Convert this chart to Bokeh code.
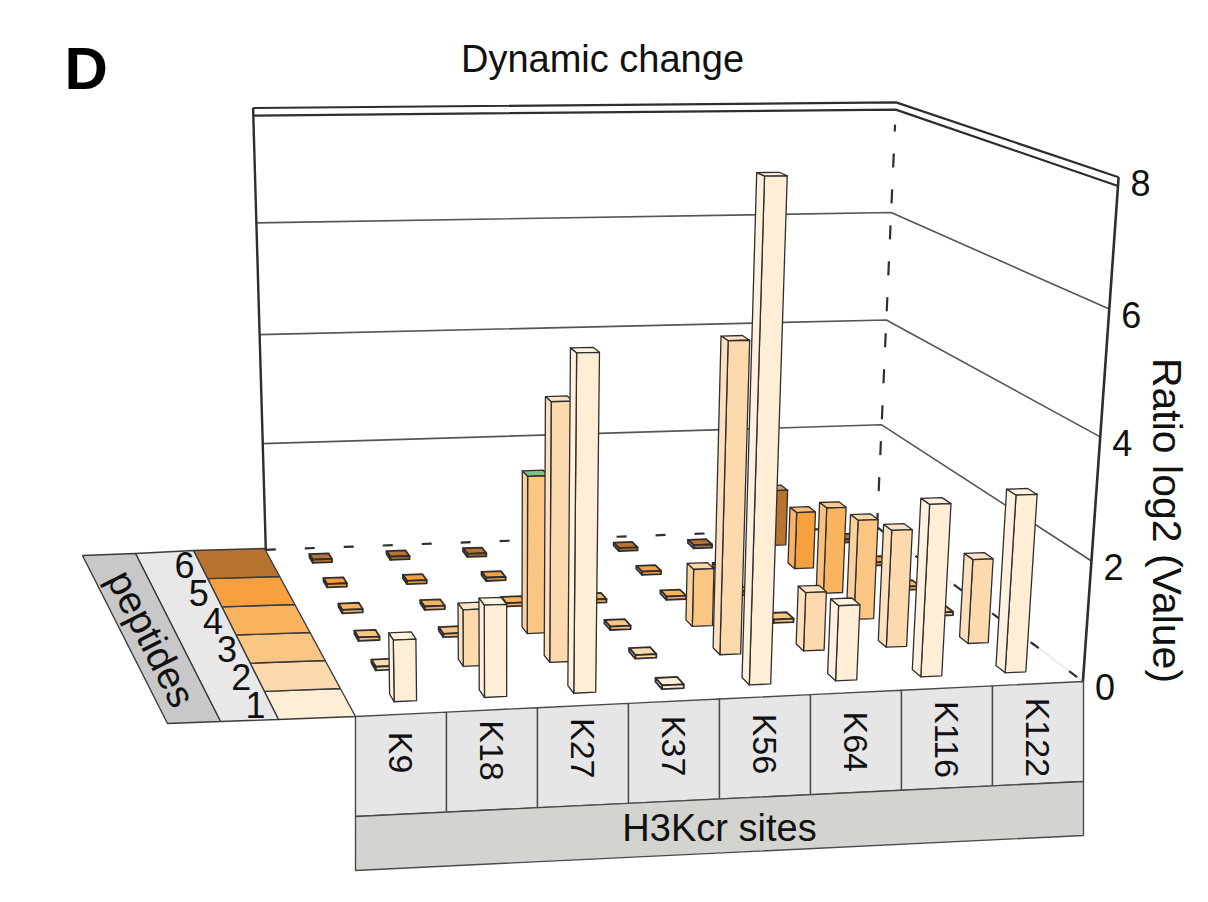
import numpy as np

from bokeh.core.properties import value
from bokeh.embed import file_html
from bokeh.models import ColumnDataSource, Range1d
from bokeh.plotting import figure
from bokeh.resources import INLINE

SITES = ['K9', 'K18', 'K27', 'K37', 'K56', 'K64', 'K116', 'K122']
PEPTIDES = ['1', '2', '3', '4', '5', '6']

# log2 ratio per peptide, one value per site (0 = flat tile)
PEP1 = [1.0, 1.5, 5.4, 0.0, 8.0, 1.25, 2.85, 2.95]
PEP2 = [0.0, 0.95, 4.3, 0.0, 5.2, 1.0, 2.0, 1.45]
PEP3 = [0.0, 0.0, 2.7, 0.0, 1.0, 0.0, 1.75, 0.0]
PEP4 = [0.0, 0.0, 0.0, 0.0, 0.0, 0.0, 1.55, 0.0]
PEP5 = [0.0, 0.0, 0.0, 0.0, 0.0, 0.0, 1.05, 0.0]
PEP6 = [0.0, 0.0, 0.0, 0.0, 0.0, 0.0, 1.05, 0.0]
VALUES = [PEP1, PEP2, PEP3, PEP4, PEP5, PEP6]

Z_TICKS = [0, 2, 4, 6, 8]
Z_MAX = 8

PEP_COLORS = ['#ffeed6', '#fdd9ae', '#fbc583', '#fab35e', '#f7a040', '#b8742f']
TOP_ACCENT = {('K27', '3'): '#7cc47c'}

W, H = 1190, 884
FONT = value('Liberation Sans')
EDGE = '#2e2e2e'
BAR_HALF = 0.12
BAR_SPREAD = 0.97
MIN_H = 0.06

# where the corners of the 3d box land on the page (layout)
ANCHORS = [
    ((0, 0, 0), (355, 716)),
    ((8, 0, 0), (1083, 681)),
    ((0, 6, 0), (264, 548)),
    ((8, 6, 0), (878, 522)),
    ((0, 6, 8), (255, 106)),
    ((8, 6, 8), (895, 98)),
    ((8, 0, 8), (1117, 176)),
    ((8, 0, 4), (1100, 437)),
    ((8, 6, 4), (885, 328)),
    ((0, 6, 4), (258, 337)),
]


def fit_camera(pairs):
  w = np.array([a for a, _ in pairs], float)
  s = np.array([b for _, b in pairs], float)
  sm = s.mean(0)
  ss = np.sqrt(2) / np.mean(np.linalg.norm(s - sm, axis=1))
  T = np.array([[ss, 0, -ss * sm[0]], [0, ss, -ss * sm[1]], [0, 0, 1]])
  wm = w.mean(0)
  ws = np.sqrt(3) / np.mean(np.linalg.norm(w - wm, axis=1))
  U = np.diag([ws, ws, ws, 1.0])
  U[:3, 3] = -ws * wm
  sn = (T @ np.c_[s, np.ones(len(s))].T).T
  wn = (U @ np.c_[w, np.ones(len(w))].T).T
  rows = []
  for (X, Y, Z, V), (u, v, _) in zip(wn, sn):
    rows.append([X, Y, Z, V, 0, 0, 0, 0, -u * X, -u * Y, -u * Z, -u * V])
    rows.append([0, 0, 0, 0, X, Y, Z, V, -v * X, -v * Y, -v * Z, -v * V])
  _, _, vt = np.linalg.svd(np.array(rows))
  P = np.linalg.inv(T) @ vt[-1].reshape(3, 4) @ U
  if (P @ np.array([4, 3, 4, 1.0]))[2] < 0:
    P = -P
  return P


P = fit_camera(ANCHORS)
_, _, vt = np.linalg.svd(P)
CAM = vt[-1][:3] / vt[-1][3]


def proj(pts):
  pts = np.asarray(pts, float)
  h = np.c_[pts, np.ones(len(pts))] @ P.T
  return list(h[:, 0] / h[:, 2]), list(h[:, 1] / h[:, 2])


def shade(color, k):
  c = np.array([int(color[i:i + 2], 16) for i in (1, 3, 5)], float)
  c = c * k if k < 1 else c + (255 - c) * (k - 1)
  return '#%02x%02x%02x' % tuple(int(round(min(255, max(0, v)))) for v in c)


def box_faces(xc, yc, h, color, top_color):
  x0, x1, y0, y1 = xc - BAR_HALF, xc + BAR_HALF, yc - BAR_HALF, yc + BAR_HALF
  side = shade(color, 1.2)
  faces = [
      ([(x0, y0, h), (x1, y0, h), (x1, y1, h), (x0, y1, h)], (0, 0, 1), (xc, yc, h), top_color),
      ([(x0, y0, 0), (x1, y0, 0), (x1, y0, h), (x0, y0, h)], (0, -1, 0), (xc, y0, h / 2), color),
      ([(x0, y1, 0), (x1, y1, 0), (x1, y1, h), (x0, y1, h)], (0, 1, 0), (xc, y1, h / 2), color),
      ([(x0, y0, 0), (x0, y1, 0), (x0, y1, h), (x0, y0, h)], (-1, 0, 0), (x0, yc, h / 2), side),
      ([(x1, y0, 0), (x1, y1, 0), (x1, y1, h), (x1, y0, h)], (1, 0, 0), (x1, yc, h / 2), side),
  ]
  out = []
  for pts, n, c, col in faces:
    if np.dot(CAM - np.array(c), n) > 0:
      out.append((pts, col))
  return out


p = figure(width=W, height=H, x_range=Range1d(0, W), y_range=Range1d(H, 0),
           output_backend='svg', toolbar_location=None, min_border=0)
p.axis.visible = False
p.grid.visible = False
p.outline_line_color = None
p.background_fill_color = 'white'

# walls: grid lines, top rim and edges
for z in Z_TICKS[1:-1]:
  xs, ys = proj([(0, 6, z), (8, 6, z), (8, 0, z)])
  p.line(xs, ys, line_color='#555555', line_width=1.6)
for z in (Z_MAX, Z_MAX - 0.13):
  xs, ys = proj([(0, 6, z), (8, 6, z), (8, 0, z)])
  p.line(xs, ys, line_color=EDGE, line_width=2.2)
xs, ys = proj([(0, 6, 0), (0, 6, Z_MAX)])
p.line(xs, ys, line_color=EDGE, line_width=2.4)
xs, ys = proj([(8, 6, 0), (8, 6, Z_MAX - 0.4)])
p.line(xs, ys, line_color=EDGE, line_width=2.2, line_dash='14 22')
xs, ys = proj([(0, 6, 0), (8, 6, 0)])
p.line(xs, ys, line_color=EDGE, line_width=2.2, line_dash='10 29')
xs, ys = proj([(8, 6, 0), (8, 0, 0)])
p.line(xs, ys, line_color='#c9d8ec', line_width=1)
p.line(xs, ys, line_color=EDGE, line_width=2.2, line_dash='10 38')

# bars, far to near
bars = []
for j, row in enumerate(VALUES):
  for i, v in enumerate(row):
    xc = 4 + (i + 0.5 - 4) * BAR_SPREAD
    yc = j + 0.5
    dist = np.hypot(CAM[0] - xc, CAM[1] - yc)
    top = TOP_ACCENT.get((SITES[i], PEPTIDES[j]), shade(PEP_COLORS[j], 1.3))
    bars.append((dist, xc, yc, max(v, MIN_H), PEP_COLORS[j], top, v < MIN_H))
bars.sort(key=lambda b: -b[0])

face_xs, face_ys, face_col, face_lw = [], [], [], []
for _, xc, yc, h, col, top, flat in bars:
  for pts, c in box_faces(xc, yc, h, col, col if flat else top):
    fx, fy = proj(pts)
    face_xs.append(fx)
    face_ys.append(fy)
    face_col.append(c)
    face_lw.append(1.8 if flat else 1.3)
p.patches('xs', 'ys', source=ColumnDataSource(dict(xs=face_xs, ys=face_ys, fill=face_col,
                                                   lw=face_lw)),
          fill_color='fill', line_color=EDGE, line_width='lw', line_join='round')

# front vertical axis with ticks
xs, ys = proj([(8, 0, 0), (8, 0, Z_MAX)])
p.line(xs, ys, line_color=EDGE, line_width=2.6)
tx, ty = proj([(8, 0, z) for z in Z_TICKS])
p.text(x=tx, y=[y + 6 for y in ty], text=[str(z) for z in Z_TICKS], text_font=FONT,
       text_font_size='36px', text_align='left', text_baseline='middle', x_offset=12,
       text_color='#111111')
p.text(x=[1166], y=[520], text=['Ratio log2 (Value)'], text_font=FONT, text_font_size='41px',
       angle=-np.pi / 2, text_align='center', text_baseline='middle', text_color='#111111')

# site panel hanging from the front edge
fl, fr = np.array(ANCHORS[0][1], float), np.array(ANCHORS[1][1], float)
n = len(SITES)
tops = [fl + (fr - fl) * k / n for k in range(n + 1)]
cell_h, band_h = 100, 54
cell_xs = [[tops[k][0], tops[k + 1][0], tops[k + 1][0], tops[k][0]] for k in range(n)]
cell_ys = [[tops[k][1], tops[k + 1][1], tops[k + 1][1] + cell_h, tops[k][1] + cell_h]
           for k in range(n)]
p.patches(cell_xs, cell_ys, fill_color='#e6e6e6', line_color='#4a4a4a', line_width=1.4)
p.patch([fl[0], fr[0], fr[0], fl[0]],
        [fl[1] + cell_h, fr[1] + cell_h, fr[1] + cell_h + band_h, fl[1] + cell_h + band_h],
        fill_color='#d3d3cf', line_color='#4a4a4a', line_width=1.4)
label_y = [(tops[k][1] + tops[k + 1][1]) / 4 + ((fl[1] + fr[1]) / 2) / 2 + cell_h / 2 - 4
           for k in range(n)]
p.text(x=[(tops[k][0] + tops[k + 1][0]) / 2 for k in range(n)], y=label_y, text=SITES,
       text_font=FONT, text_font_size='34px', angle=-np.pi / 2, text_align='center',
       text_baseline='middle', text_color='#111111')
p.text(x=[(fl[0] + fr[0]) / 2], y=[(fl[1] + fr[1]) / 2 + cell_h + band_h / 2 + 2],
       text=['H3Kcr sites'], text_font=FONT, text_font_size='38px', text_align='center',
       text_baseline='middle', text_color='#111111')

# peptide legend strip on the left
EDGES = [((264, 548), (355, 716)), ((193, 550), (278, 719)),
         ((135, 553), (220, 721)), ((82, 555), (167, 723))]


def on_edge(e, t):
  (x0, y0), (x1, y1) = EDGES[e]
  return x0 + (x1 - x0) * t, y0 + (y1 - y0) * t


m = len(PEPTIDES)
leg_xs, leg_ys, leg_col = [], [], []
for j in range(m):
  t0, t1 = (m - 1 - j) / m, (m - j) / m
  pts = [on_edge(1, t0), on_edge(0, t0), on_edge(0, t1), on_edge(1, t1)]
  leg_xs.append([q[0] for q in pts])
  leg_ys.append([q[1] for q in pts])
  leg_col.append(PEP_COLORS[j])
for e, col in ((1, '#e8e8e8'), (2, '#c8c8c8')):
  pts = [on_edge(e + 1, 0), on_edge(e, 0), on_edge(e, 1), on_edge(e + 1, 1)]
  leg_xs.append([q[0] for q in pts])
  leg_ys.append([q[1] for q in pts])
  leg_col.append(col)
p.patches('xs', 'ys', source=ColumnDataSource(dict(xs=leg_xs, ys=leg_ys, fill=leg_col)),
          fill_color='fill', line_color='#3a3a3a', line_width=1.4)
dig = [on_edge(1, (m - 0.5 - j) / m) for j in range(m)]
p.text(x=[d[0] for d in dig], y=[d[1] for d in dig], text=PEPTIDES, text_font=FONT,
       text_font_size='36px', text_align='right', text_baseline='middle', x_offset=-6,
       text_color='#111111')
mid2, mid3 = on_edge(2, 0.5), on_edge(3, 0.5)
p.text(x=[(mid2[0] + mid3[0]) / 2], y=[(mid2[1] + mid3[1]) / 2], text=['peptides'],
       text_font=FONT, text_font_size='39px', angle=-1.1, text_align='center',
       text_baseline='middle', text_color='#111111')

p.text(x=[602], y=[58], text=['Dynamic change'], text_font=FONT, text_font_size='38px',
       text_align='center', text_baseline='middle', text_color='#111111')
p.text(x=[64], y=[68], text=['D'], text_font=FONT, text_font_size='60px',
       text_font_style='bold', text_align='left', text_baseline='alphabetic',
       text_color='#000000')

open('out.html', 'w').write(file_html(p, INLINE))
